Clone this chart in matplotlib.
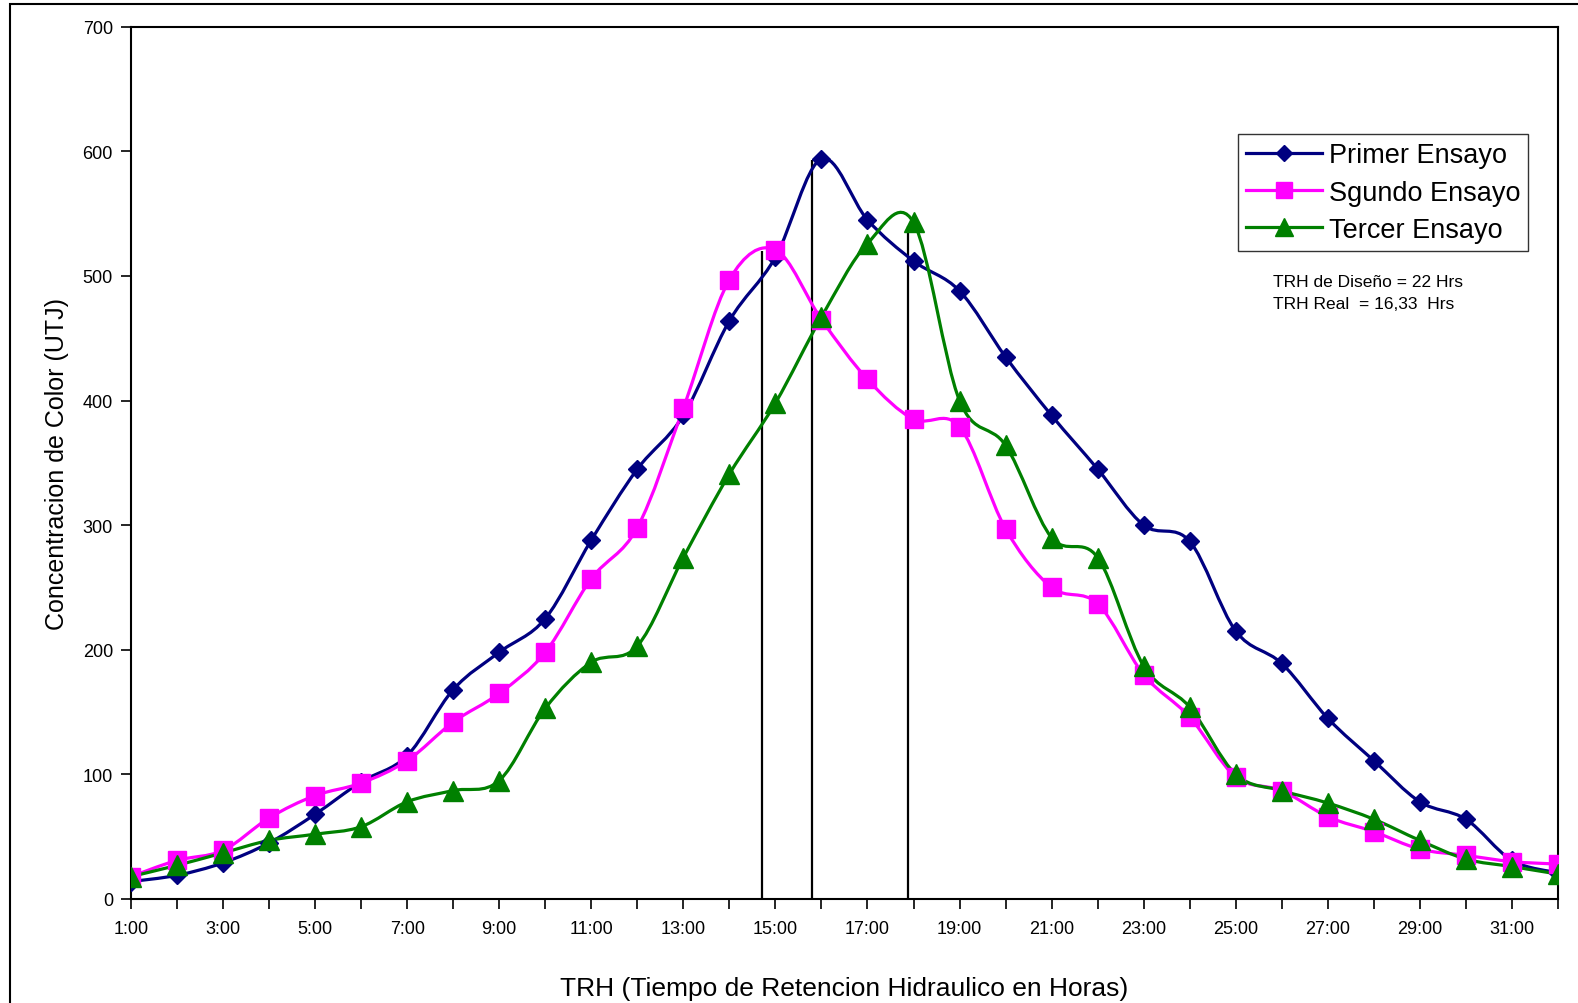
import matplotlib
matplotlib.use("Agg")
import matplotlib.pyplot as plt
from matplotlib.path import Path
from matplotlib.patches import PathPatch, Rectangle
from matplotlib.lines import Line2D
import numpy as np

plt.rcParams["font.family"] = ["Liberation Sans", "DejaVu Sans"]

# -----------------------------
# Datos
# -----------------------------
horas = list(range(1, 33))
etiquetas = [f"{h}:00" if h % 2 == 1 else "" for h in horas]

primer = [14, 19, 29, 45, 68, 94, 115, 168, 198, 225, 288, 345, 388, 464, 515, 594,
          545, 512, 488, 435, 388, 345, 300, 287, 215, 189, 145, 111, 78, 64, 31, 21]
segundo = [18, 31, 39, 65, 83, 93, 111, 142, 165, 198, 257, 298, 394, 497, 521, 465,
           417, 385, 379, 297, 250, 237, 180, 146, 98, 87, 66, 54, 40, 35, 30, 28]
tercer = [18, 27, 37, 47, 52, 58, 78, 87, 95, 153, 190, 203, 274, 341, 398, 467,
          526, 543, 400, 364, 290, 274, 187, 154, 100, 87, 77, 64, 47, 32, 26, 20]

# lineas verticales (picos)
picos_x = [14.7, 15.8, 17.87]
picos_y = [520, 593, 540]

series = [
    ("Primer Ensayo", primer, "#000080", "D", 9.5),
    ("Sgundo Ensayo", segundo, "#FF00FF", "s", 13),
    ("Tercer Ensayo", tercer, "#008000", "^", 15),
]


# -----------------------------
# Curva suavizada tipo Excel (Bezier Catmull-Rom)
# -----------------------------
def smooth_path(x, y):
    pts = np.column_stack([x, y]).astype(float)
    n = len(pts)
    verts = [pts[0]]
    codes = [Path.MOVETO]
    for i in range(n - 1):
        p0 = pts[i - 1] if i > 0 else pts[i]
        p1 = pts[i]
        p2 = pts[i + 1]
        p3 = pts[i + 2] if i + 2 < n else pts[i + 1]
        c1 = p1 + (p2 - p0) / 6.0
        c2 = p2 - (p3 - p1) / 6.0
        verts += [c1, c2, p2]
        codes += [Path.CURVE4] * 3
    return Path(verts, codes)


fig = plt.figure(figsize=(15.78, 10.04), dpi=100)
ax = fig.add_axes([0.083, 0.1036, 0.9043, 0.8688])

handles = []
for nombre, vals, color, mk, ms in series:
    patch = PathPatch(smooth_path(horas, vals), facecolor="none", edgecolor=color,
                      lw=2.3, zorder=3)
    ax.add_patch(patch)
    ax.plot(horas, vals, linestyle="none", marker=mk, ms=ms, color=color,
            markeredgecolor=color, zorder=4)
    handles.append(Line2D([], [], color=color, lw=2.3, marker=mk, ms=ms * 0.9,
                          label=nombre))

ax.vlines(picos_x, 0, picos_y, colors="black", lw=1.6, zorder=2)

ax.set_xlim(1, 32)
ax.set_ylim(0, 700)
ax.set_xticks(horas)
ax.set_xticklabels(etiquetas)
ax.set_yticks(range(0, 701, 100))
ax.tick_params(axis="both", direction="out", length=7, width=1.2, labelsize=13,
               colors="black")
ax.tick_params(axis="x", pad=8)
ax.tick_params(axis="y", pad=6)
for s in ax.spines.values():
    s.set_linewidth(1.5)
    s.set_color("black")

ax.set_xlabel("TRH (Tiempo de Retencion Hidraulico en Horas)", fontsize=19,
              labelpad=28)
ax.set_ylabel("Concentracion de Color (UTJ)", fontsize=18, labelpad=10)

leg = fig.legend(handles=handles, loc="upper left", bbox_to_anchor=(0.7845, 0.8655),
                 bbox_transform=fig.transFigure, fontsize=19.5, frameon=True,
                 fancybox=False, edgecolor="black", handlelength=2.8,
                 borderpad=0.3, labelspacing=0.42, handletextpad=0.25,
                 borderaxespad=0)
leg.get_frame().set_linewidth(1.0)

fig.text(0.8067, 0.719, "TRH de Diseño = 22 Hrs", fontsize=12.5, va="center")
fig.text(0.8067, 0.697, "TRH Real  = 16,33  Hrs", fontsize=12.5, va="center")

# marco exterior
fig.add_artist(Rectangle((0.0063, -0.05), 1.2, 1.045, transform=fig.transFigure,
                         fill=False, edgecolor="black", lw=1.5))

fig.savefig("out.png", dpi=100)
